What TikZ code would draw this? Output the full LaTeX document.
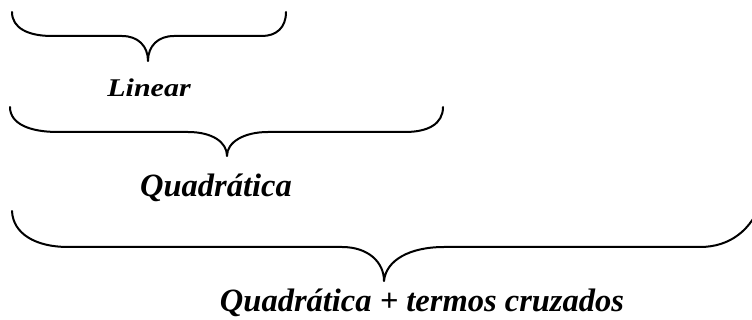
\documentclass[tikz,border=0pt]{standalone}
\usepackage{fontspec}
\setmainfont{Liberation Serif}
\begin{document}
\begin{tikzpicture}[x=1pt,y=-1pt,
  bracestyle/.style={line width=2pt,line join=round,line cap=round},
  lbl/.style={anchor=base,inner sep=0pt,font=\fontsize{32.5}{36}\selectfont\bfseries\itshape}]
\useasboundingbox (0,0) rectangle (752,320);
% brace 1
\draw[bracestyle] (12,12) .. controls (12,28) and (28,36) .. (52,36)
  -- (122,36) .. controls (138,36) and (148,46) .. (148,61)
  .. controls (148,46) and (158,36) .. (174,36)
  -- (262,36) .. controls (276,36) and (286,28) .. (286,12);
% brace 2
\draw[bracestyle] (10,107) .. controls (10,124) and (30,132) .. (58,132)
  -- (188,132) .. controls (212,132) and (227,142) .. (227,156)
  .. controls (227,142) and (244,132) .. (268,132)
  -- (405,132) .. controls (428,132) and (443,124) .. (443,107);
% brace 3
\draw[bracestyle] (12,211) .. controls (13,234) and (36,247) .. (68,247)
  -- (342,247) .. controls (368,247) and (384,262) .. (384,281)
  .. controls (386,260) and (410,247) .. (444,247)
  -- (700,247) .. controls (730,247) and (752,230) .. (762,200);
\node[lbl] (lin) at (149,97) {\scalebox{1}[0.85]{\fontsize{30}{34}\selectfont Linear}};
\node[lbl] (quad) at (216,197) {Quadrática};
\node[lbl] (quadx) at (422,312) {Quadrática + termos cruzados};
\end{tikzpicture}
\end{document}
